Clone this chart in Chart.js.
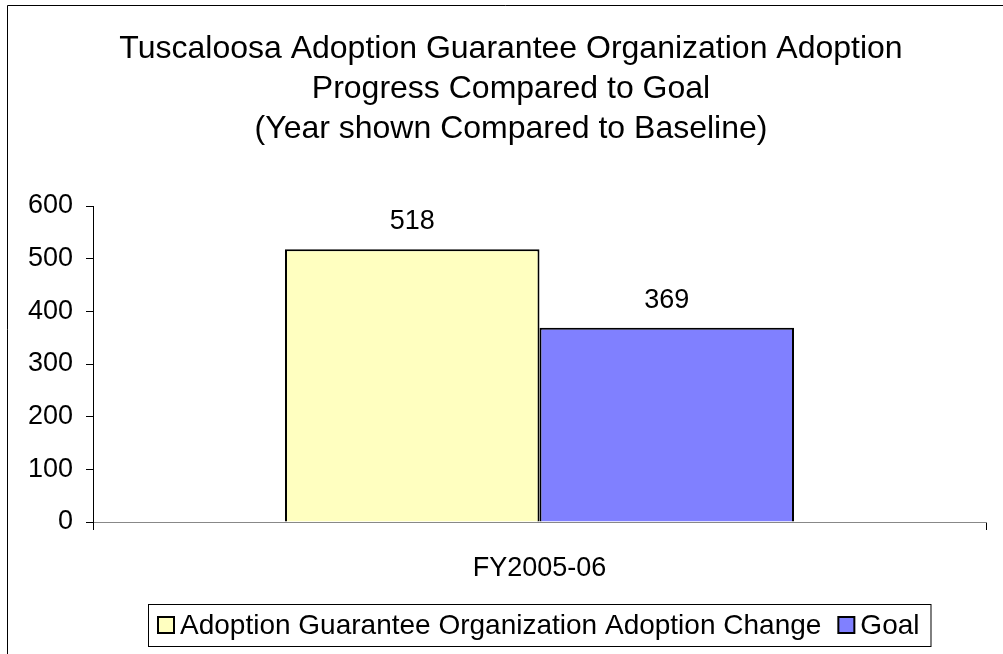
<!DOCTYPE html>
<html>
<head>
<meta charset="utf-8">
<script src="https://cdn.jsdelivr.net/npm/chart.js@4.4.0/dist/chart.umd.min.js"></script>
<style>
  html, body { margin: 0; padding: 0; background: #fff; }
  #wrap { width: 1003px; height: 654px; }
</style>
</head>
<body>
<div id="wrap"><canvas id="chart" width="1003" height="654"></canvas></div>
<script>
const categories = ['FY2005-06'];
const changeValues = [518];
const goalValues = [369];
const seriesNames = ['Adoption Guarantee Organization Adoption Change', 'Goal'];
const titleLines = [
  'Tuscaloosa Adoption Guarantee Organization Adoption',
  'Progress Compared to Goal',
  '(Year shown Compared to Baseline)'
];

const FONT = "'Liberation Sans', Arial, sans-serif";

// frame, title, value labels and the boxed legend at the bottom
const extras = {
  id: 'extras',
  afterDraw(chart) {
    const c = chart.ctx;
    c.save();
    c.strokeStyle = '#000';
    c.lineWidth = 1;
    c.beginPath();
    c.moveTo(7.5, 654);
    c.lineTo(7.5, 5.5);
    c.lineTo(1003, 5.5);
    c.stroke();

    // title
    c.fillStyle = '#000';
    c.font = '32px ' + FONT;
    c.textAlign = 'center';
    c.textBaseline = 'middle';
    titleLines.forEach((t, i) => c.fillText(t, 511, 49 + i * 40));

    // data labels
    c.font = '27px ' + FONT;
    c.textBaseline = 'alphabetic';
    chart.data.datasets.forEach((ds, i) => {
      chart.getDatasetMeta(i).data.forEach((bar, j) => {
        c.fillText(ds.data[j], bar.x, bar.y - 20);
      });
    });

    // legend
    c.font = '28px ' + FONT;
    c.textBaseline = 'middle';
    c.textAlign = 'left';
    const sw = 16, gapText = 6, gapItem = 17;
    const items = chart.data.datasets.map(ds => ({ ds, w: c.measureText(ds.label).width }));
    let total = 0;
    items.forEach((it, i) => { total += sw + gapText + it.w + (i ? gapItem : 0); });
    const cy = 625;
    let x = 158;
    c.lineWidth = 1;
    c.strokeRect(148.5, 604.5, total + 21, 42);
    items.forEach((it, i) => {
      if (i) x += gapItem;
      c.fillStyle = it.ds.backgroundColor;
      c.fillRect(x, cy - sw / 2, sw, sw);
      c.lineWidth = 2;
      c.strokeStyle = '#000';
      c.strokeRect(x, cy - sw / 2, sw, sw);
      x += sw + gapText;
      c.fillStyle = '#000';
      c.fillText(it.ds.label, x, cy + 1);
      x += it.w;
    });
    c.restore();
  }
};

new Chart(document.getElementById('chart'), {
  type: 'bar',
  data: {
    labels: categories,
    datasets: [{
      label: seriesNames[0],
      data: changeValues,
      backgroundColor: '#FFFFC0',
      borderColor: '#000',
      borderWidth: 2,
      borderSkipped: 'bottom',
      categoryPercentage: 0.57,
      barPercentage: 1.0
    }, {
      label: seriesNames[1],
      data: goalValues,
      backgroundColor: '#8080FF',
      borderColor: '#000',
      borderWidth: 2,
      borderSkipped: 'bottom',
      categoryPercentage: 0.57,
      barPercentage: 1.0
    }]
  },
  options: {
    responsive: false,
    animation: false,
    layout: { padding: { left: 7, right: 17, top: 206, bottom: 53 } },
    plugins: {
      title: { display: false },
      legend: { display: false },
      tooltip: { enabled: false }
    },
    scales: {
      x: {
        offset: true,
        grid: { display: true, offset: true, drawOnChartArea: false, color: '#000', tickLength: 8 },
        border: { color: '#888', width: 1 },
        ticks: { color: '#000', font: { family: FONT, size: 27 }, padding: 22 },
        afterFit(s) { s.height = 79; }
      },
      y: {
        min: 0, max: 600,
        grid: { drawOnChartArea: false, color: '#000', tickLength: 7 },
        border: { color: '#000', width: 1 },
        ticks: { stepSize: 100, color: '#000', font: { family: FONT, size: 27 }, padding: 13 },
        afterFit(s) { s.width = 86; }
      }
    }
  },
  plugins: [extras]
});
</script>
</body>
</html>
